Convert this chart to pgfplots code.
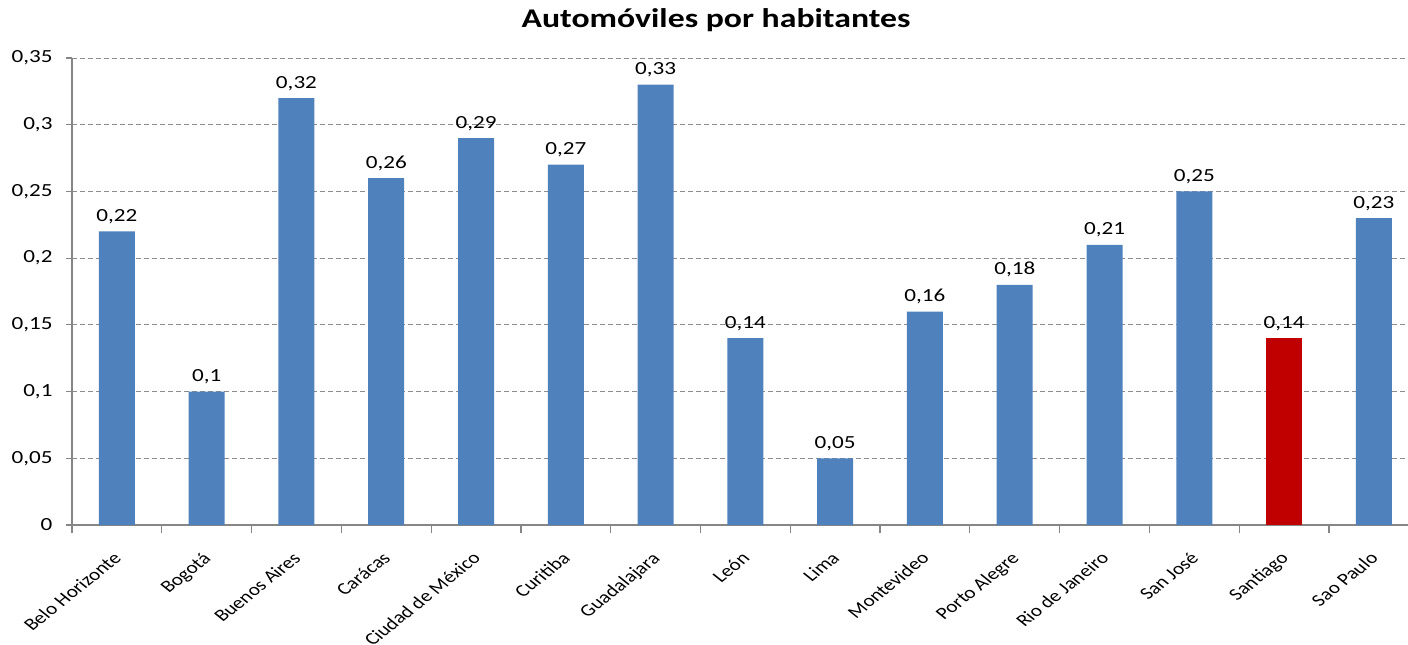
\documentclass[border=0pt]{standalone}
\usepackage{fontspec}
\setmainfont{Carlito}[FakeStretch=1.25]
\newfontfamily\plainfont{Carlito}
\usepackage{pgfplots}
\pgfplotsset{compat=1.18}
\definecolor{barblue}{HTML}{4F81BD}
\definecolor{barred}{HTML}{C00000}
\definecolor{axgray}{HTML}{868686}
\definecolor{gridgray}{HTML}{8C8C8C}
\begin{document}
\begin{tikzpicture}
\begin{axis}[
  at={(0,0)}, anchor=south west,
  scale only axis, width=1336pt, height=467pt,
  xmin=-0.5, xmax=14.38, ymin=0, ymax=0.35,
  axis x line*=bottom, axis y line*=left,
  axis line style={axgray, line width=1.2pt, -},
  ybar, bar width=36pt, bar shift=0pt,
  xtick={0,...,14},
  xticklabels={Belo Horizonte, Bogotá, Buenos Aires, Carácas, Ciudad de México, Curitiba, Guadalajara, León, Lima, Montevideo, Porto Alegre, Rio de Janeiro, San José, Santiago, Sao Paulo},
  major x tick style={draw=none},
  minor xtick={-0.5,0.5,...,14.5},
  minor tick style={axgray, line width=1.2pt},
  minor tick length=8pt,
  tick align=outside,
  ytick={0,0.05,0.1,0.15,0.2,0.25,0.3,0.35},
  major tick length=6pt,
  major y tick style={axgray, line width=1.2pt},
  ymajorgrids,
  grid style={gridgray, dashed, line width=0.8pt, dash pattern=on 5pt off 3pt},
  /pgf/number format/use comma,
  /pgf/number format/assume math mode=true,
  yticklabel style={font=\fontsize{18.5}{20}\selectfont, /pgf/number format/fixed, xshift=-10pt},
  xticklabel style={font=\plainfont\fontsize{17}{19}\selectfont, xshift=-5pt, yshift=-20pt, xscale=1.25, rotate=45, anchor=north east, inner sep=0pt},
  nodes near coords,
  nodes near coords style={font=\fontsize{18.5}{20}\selectfont, anchor=base, yshift=10pt, black, /pgf/number format/fixed},
  clip=false,
]
\addplot[fill=barblue, draw=none] coordinates {
 (0,0.22) (1,0.1) (2,0.32) (3,0.26) (4,0.29) (5,0.27) (6,0.33) (7,0.14)
 (8,0.05) (9,0.16) (10,0.18) (11,0.21) (12,0.25) (14,0.23)};
\addplot[fill=barred, draw=none] coordinates {(13,0.14)};
\end{axis}
\node[anchor=base, font=\fontsize{27}{30}\selectfont\bfseries] at (644pt,497pt) {Automóviles por habitantes};
\pgfresetboundingbox
\path[use as bounding box] (-72pt,-120pt) rectangle (1336pt,525pt);
\end{tikzpicture}
\end{document}
